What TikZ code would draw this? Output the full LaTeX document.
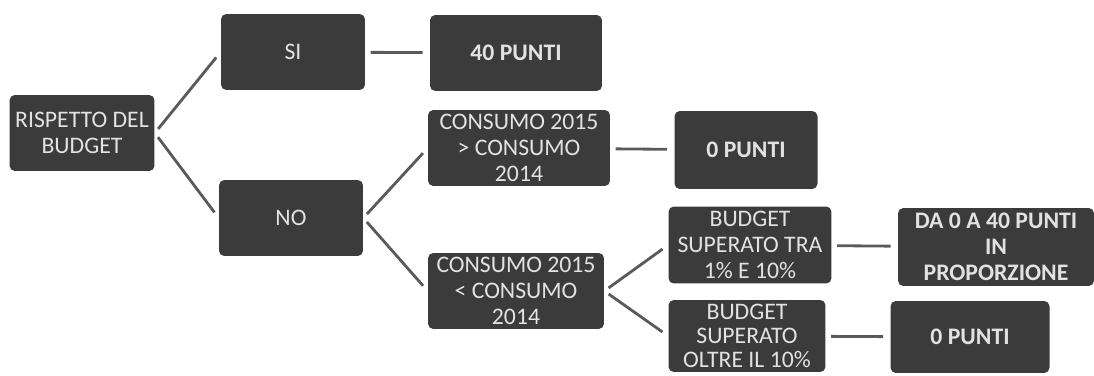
\documentclass[tikz,border=0pt]{standalone}
\usepackage{fontspec}
\setmainfont{Carlito}
\definecolor{boxgray}{HTML}{3B3B3B}
\definecolor{txtgray}{HTML}{E2E2E2}
\definecolor{linkgray}{HTML}{5A5A5A}
\tikzset{
  box/.style={rectangle, rounded corners=3pt, fill=boxgray, text=txtgray,
    minimum height=1.52cm, align=center, inner sep=2pt,
    font=\fontsize{13.5}{14.8}\selectfont},
  bold/.style={font=\fontsize{13.5}{14.8}\selectfont\bfseries},
  link/.style={draw=linkgray, line width=1.6pt, shorten <=3pt, shorten >=4pt}
}
\begin{document}
\begin{tikzpicture}[x=0.02cm, y=-0.02cm]
  \useasboundingbox (0,0) rectangle (1094,375);
  \node[box, minimum width=2.9cm] (rispetto) at (82,133) {RISPETTO DEL\\BUDGET};
  \node[box, minimum width=2.88cm] (si) at (293,52) {SI};
  \node[box, minimum width=2.88cm] (no) at (291,218) {NO};
  \node[box, bold, minimum width=3.44cm] (punti40) at (516,53) {40 PUNTI};
  \node[box, minimum width=3.64cm] (maggiore) at (519,148) {CONSUMO 2015\\> CONSUMO\\2014};
  \node[box, bold, minimum width=2.86cm, minimum height=1.56cm] (punti0a) at (746,150) {0 PUNTI};
  \node[box, minimum width=3.52cm] (minore) at (516,291) {CONSUMO 2015\\< CONSUMO\\2014};
  \node[box, minimum width=3.26cm, minimum height=1.54cm] (tra) at (750,245) {BUDGET\\SUPERATO TRA\\1\% E 10\%};
  \node[box, bold, minimum width=3.92cm, minimum height=1.56cm] (proporz) at (996,247) {DA 0 A 40 PUNTI\\IN\\PROPORZIONE};
  \node[box, minimum width=3.14cm, minimum height=1.44cm,
    font=\fontsize{13.5}{13.8}\selectfont] (oltre) at (747,336) {BUDGET\\SUPERATO\\OLTRE IL 10\%};
  \node[box, bold, minimum width=3.18cm, minimum height=1.44cm] (punti0b) at (970,337) {0 PUNTI};

  \draw[link] (rispetto.east) -- (si.west);
  \draw[link] (rispetto.east) -- (no.west);
  \draw[link] (no.east) -- (maggiore.west);
  \draw[link] (no.east) -- (minore.west);
  \draw[link] (minore.east) -- (tra.west);
  \draw[link] (minore.east) -- (oltre.west);
  \draw[link] (si) -- (punti40);
  \draw[link] (maggiore) -- (punti0a);
  \draw[link] (tra) -- (proporz);
  \draw[link] (oltre) -- (punti0b);
\end{tikzpicture}
\end{document}
